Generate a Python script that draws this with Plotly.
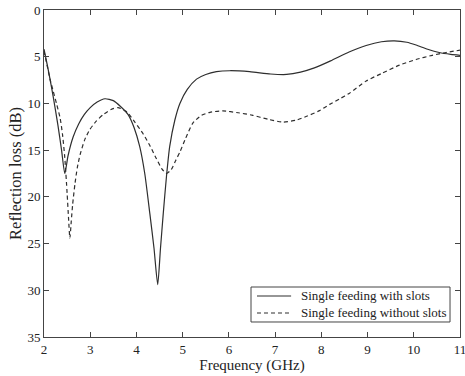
import plotly.graph_objects as go

# Solid: single feeding with slots
freq_with = [2.00, 2.10, 2.20, 2.30, 2.38, 2.45, 2.52, 2.63, 2.75, 2.87, 3.00, 3.15, 3.32, 3.50,
             3.65, 3.82, 3.95, 4.07, 4.18, 4.29, 4.38, 4.46, 4.52, 4.58, 4.65, 4.72, 4.83, 4.94,
             5.10, 5.30, 5.50, 5.73, 6.02, 6.45, 6.90, 7.25, 7.55, 7.85, 8.20, 8.60, 8.97, 9.30,
             9.58, 9.85, 10.05, 10.30, 10.55, 10.80, 11.00]
loss_with = [4.2, 6.6, 9.3, 12.3, 15.0, 17.5, 15.6, 13.6, 12.2, 11.2, 10.45, 9.85, 9.5, 9.7,
             10.3, 11.2, 12.6, 14.6, 17.5, 21.8, 25.5, 29.4, 25.5, 21.8, 17.8, 14.6, 11.8, 10.0,
             8.5, 7.4, 6.9, 6.6, 6.5, 6.6, 6.85, 6.9, 6.65, 6.2, 5.45, 4.5, 3.8, 3.4,
             3.3, 3.45, 3.75, 4.2, 4.55, 4.75, 4.85]

# Dashed: single feeding without slots
freq_without = [2.00, 2.07, 2.13, 2.20, 2.27, 2.35, 2.40, 2.45, 2.50, 2.53, 2.56, 2.59, 2.62,
                2.67, 2.72, 2.78, 2.88, 2.99, 3.13, 3.28, 3.45, 3.60, 3.79, 3.95, 4.15, 4.30,
                4.43, 4.55, 4.65, 4.75, 4.85, 4.94, 5.05, 5.22, 5.40, 5.59, 5.87, 6.20, 6.50,
                6.85, 7.17, 7.45, 7.67, 7.95, 8.18, 8.40, 8.61, 8.97, 9.30, 9.69, 10.05, 10.40,
                10.70, 11.00]
loss_without = [4.4, 6.0, 7.4, 8.7, 10.0, 11.6, 13.3, 15.8, 19.6, 22.2, 24.4, 22.6, 20.8,
                18.6, 16.9, 15.5, 13.9, 12.8, 11.9, 11.2, 10.65, 10.45, 10.9, 11.9, 13.3, 14.6,
                15.9, 17.0, 17.5, 17.1, 16.1, 15.2, 13.9, 12.1, 11.3, 10.95, 10.8, 11.0, 11.25,
                11.7, 12.0, 11.8, 11.4, 10.8, 10.1, 9.5, 8.9, 7.6, 6.8, 5.9, 5.3, 4.85,
                4.55, 4.3]

x_ticks = [2, 3, 4, 5, 6, 7, 8, 9, 10, 11]
y_ticks = [0, 5, 10, 15, 20, 25, 30, 35]
legend_names = ["Single feeding with slots", "Single feeding without slots"]

font_family = "Liberation Serif, Times New Roman, serif"
line_col = "#2e2e2e"
dash_style = "4px,3px"

fig = go.Figure()
fig.add_trace(go.Scatter(x=freq_with, y=loss_with, mode="lines", name=legend_names[0],
                         showlegend=False,
                         line=dict(color=line_col, width=1.2, shape="spline", smoothing=0.6)))
fig.add_trace(go.Scatter(x=freq_without, y=loss_without, mode="lines", name=legend_names[1],
                         showlegend=False,
                         line=dict(color=line_col, width=1.2, dash=dash_style,
                                   shape="spline", smoothing=0.6)))

axis_common = dict(showline=True, linecolor="#444", linewidth=1, mirror="ticks",
                   ticks="inside", ticklen=5, tickcolor="#444", showgrid=False,
                   zeroline=False, automargin=False, ticklabeloverflow="allow",
                   tickfont=dict(family=font_family, size=13, color="#222"))

fig.update_xaxes(range=[2, 11], tickvals=x_ticks, ticktext=[str(v) for v in x_ticks],
                 title=dict(text="Frequency (GHz)", standoff=0,
                            font=dict(family=font_family, size=15, color="#222")),
                 **axis_common)
fig.update_yaxes(range=[35, 0], tickvals=y_ticks, ticktext=[str(v) for v in y_ticks],
                 title=dict(text="Reflection loss (dB)", standoff=1,
                            font=dict(family=font_family, size=16.5, color="#222")),
                 **axis_common)

# Custom legend box (paper coordinates)
box = dict(x0=0.4976, x1=0.976, y0=0.0459, y1=0.1529)
rows_y = [0.1254, 0.0734]
sample_x = [0.512, 0.594]
text_x = 0.612
shapes = [dict(type="rect", xref="paper", yref="paper", **box,
               line=dict(color="#444", width=1), fillcolor="white", layer="above")]
annotations = []
for i, (name, dash) in enumerate(zip(legend_names, ["solid", dash_style])):
    shapes.append(dict(type="line", xref="paper", yref="paper",
                       x0=sample_x[0], x1=sample_x[1], y0=rows_y[i], y1=rows_y[i],
                       line=dict(color=line_col, width=1.2, dash=dash), layer="above"))
    annotations.append(dict(xref="paper", yref="paper", x=text_x, y=rows_y[i],
                            xanchor="left", yanchor="middle", showarrow=False, text=name,
                            font=dict(family=font_family, size=13, color="#222")))

fig.update_layout(
    width=465, height=376,
    margin=dict(l=44, r=5, t=10, b=39),
    paper_bgcolor="white", plot_bgcolor="white",
    font=dict(family=font_family, size=13, color="#222"),
    shapes=shapes, annotations=annotations,
    showlegend=False,
)

fig.write_html("out.html")
